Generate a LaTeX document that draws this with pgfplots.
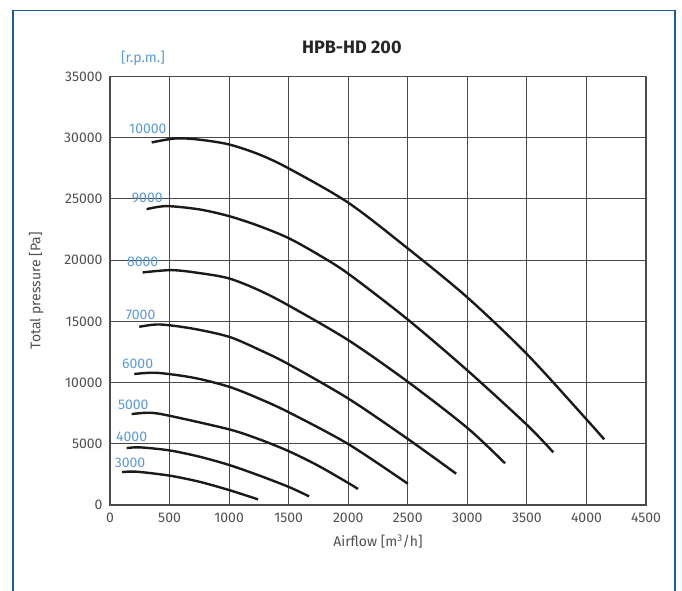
\documentclass[border=0pt]{standalone}
\usepackage{fontspec}
\setmainfont{Fira Sans}
\usepackage{pgfplots}
\pgfplotsset{compat=1.18}
\definecolor{framecol}{HTML}{1B5E9E}
\definecolor{rpmcol}{HTML}{5B9BD5}
\definecolor{gridcol}{HTML}{4A4A4A}
\definecolor{tickcol}{HTML}{505050}
\definecolor{curvecol}{HTML}{1A1A1A}
\pgfplotsset{rpm/.style={draw=curvecol, line width=2.4pt, smooth, tension=0.5, mark=none}}

\begin{document}
\begin{tikzpicture}
\begin{axis}[
  at={(110pt,85pt)}, anchor=south west,
  width=536pt, height=428.4pt, scale only axis,
  xmin=0, xmax=4500, ymin=0, ymax=35000,
  xtick={0,500,...,4500}, ytick={0,5000,...,35000},
  scaled ticks=false,
  /pgf/number format/.cd, set thousands separator={}, assume math mode=true, /pgfplots/.cd,
  major tick length=0pt,
  grid=major,
  major grid style={gridcol, line width=1pt},
  axis line style={gridcol, line width=1.2pt},
  tick label style={font=\fontsize{14}{16}\selectfont, color=tickcol},
  yticklabel style={xshift=-4pt},
  xticklabel style={yshift=-4pt},
  label style={font=\fontsize{14}{16}\selectfont, color=tickcol},
  xlabel={Airflow [m\textsuperscript{3}/h]},
  ylabel={Total pressure [Pa]},
  xlabel style={at={(axis description cs:0.5,-0.086)}, anchor=center},
  ylabel style={at={(axis description cs:-0.138,0.5)}, anchor=center},
  clip=false,
]
% 3000 rpm
\addplot[rpm] coordinates {(101,2690) (224,2720) (500,2400) (750,1900) (1000,1220) (1243,460)};
% 4000 rpm
\addplot[rpm] coordinates {(140,4650) (251,4710) (500,4460) (750,3950) (1000,3270) (1250,2420) (1500,1480) (1671,710)};
% 5000 rpm
\addplot[rpm] coordinates {(182,7430) (335,7540) (500,7290) (1000,6180) (1250,5380) (1500,4400) (1750,3200) (2000,1800) (2082,1310)};
% 6000 rpm
\addplot[rpm] coordinates {(204,10700) (391,10800) (700,10400) (1000,9660) (1250,8700) (1500,7580) (2000,4980) (2500,1740)};
% 7000 rpm
\addplot[rpm] coordinates {(246,14560) (419,14750) (700,14400) (1000,13740) (1250,12700) (1500,11500) (2000,8700) (2500,5400) (2906,2560)};
% 8000 rpm
\addplot[rpm] coordinates {(274,19000) (517,19190) (750,18950) (1000,18510) (1250,17550) (1500,16300) (2000,13470) (2500,10070) (3000,6300) (3317,3400)};
% 9000 rpm
\addplot[rpm] coordinates {(307,24170) (475,24420) (750,24150) (1000,23600) (1250,22800) (1500,21800) (1750,20450) (2000,18900) (2500,15150) (3000,11000) (3500,6550) (3722,4300)};
% 10000 rpm
\addplot[rpm] coordinates {(350,29620) (550,29950) (750,29850) (1000,29455) (1250,28650) (1500,27500) (2000,24700) (2500,20960) (3000,16960) (3500,12330) (4000,7000) (4149,5360)};

\node[font=\fontsize{18}{20}\selectfont\bfseries, text=black!85] at (axis cs:2030,37400) {HPB-HD 200};
\begin{scope}[every node/.style={font=\fontsize{14}{16}\selectfont, text=rpmcol}]
\node at (axis cs:277,36500) {[r.p.m.]};
\node at (axis cs:318,30700) {10000};
\node at (axis cs:313,25100) {9000};
\node at (axis cs:274,19870) {8000};
\node at (axis cs:257,15570) {7000};
\node at (axis cs:232,11570) {6000};
\node at (axis cs:195,8170) {5000};
\node at (axis cs:182,5580) {4000};
\node at (axis cs:168,3460) {3000};
\end{scope}
\end{axis}
\draw[framecol, line width=1.5pt] (13pt,-10pt) -- (13pt,579.5pt) -- (675pt,579.5pt) -- (675pt,-10pt);
\pgfresetboundingbox
\useasboundingbox (0,0) rectangle (682pt,590pt);
\end{tikzpicture}
\end{document}
